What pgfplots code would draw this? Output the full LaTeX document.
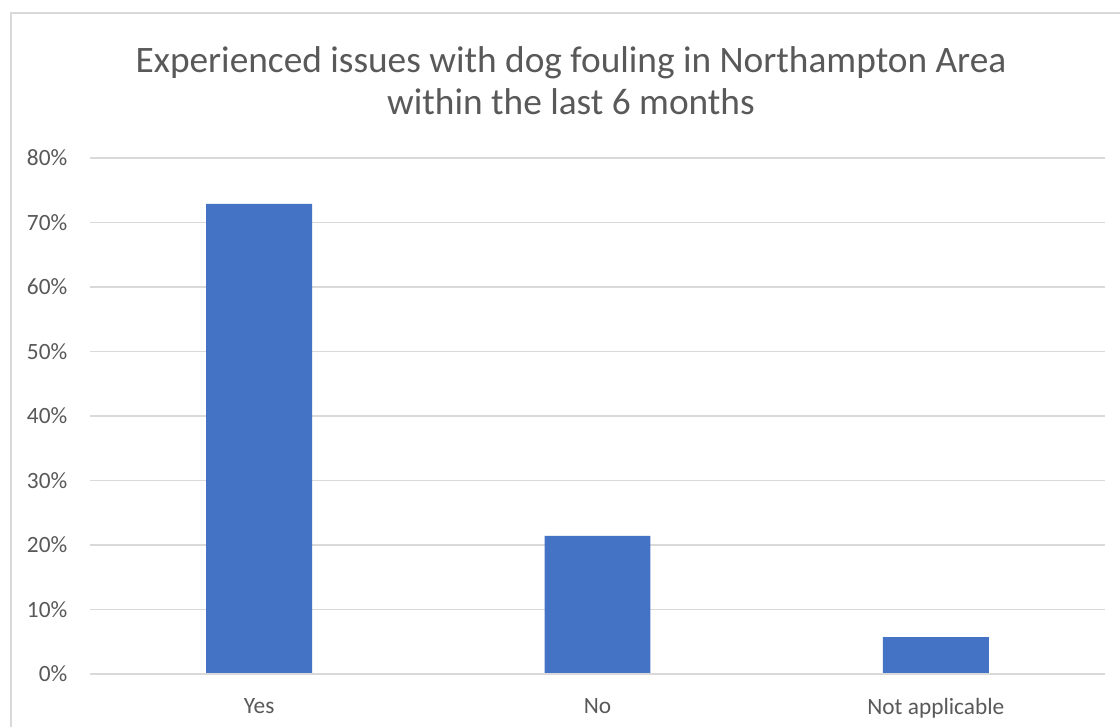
\documentclass[border=0pt]{standalone}
\usepackage{fontspec}
\setmainfont{Carlito}
\usepackage{pgfplots}
\pgfplotsset{compat=1.18}
\definecolor{barblue}{HTML}{4472C4}
\definecolor{txtgray}{HTML}{595959}
\definecolor{gridgray}{HTML}{D9D9D9}
\begin{document}
\begin{tikzpicture}
  % page = 1120 x 727 px = 840pt x 545.25pt, origin at bottom left
  \useasboundingbox[fill=white] (0pt,0pt) rectangle (840pt,545.25pt);
  \draw[gridgray, line width=1.5pt] (8.25pt,0pt) -- (8.25pt,535.5pt) -- (840pt,535.5pt);
  \node[txtgray, align=center, font=\fontsize{28}{31.5}\selectfont] at (428.25pt,484.5pt)
    {Experienced issues with dog fouling in Northampton Area\\within the last 6 months};
  \begin{axis}[
      at={(67.5pt,39.75pt)}, anchor=south west,
      scale only axis,
      width=761.25pt, height=387pt,
      ybar, bar width=0.313,
      xmin=-0.5, xmax=2.5,
      ymin=0, ymax=80,
      xtick=data,
      xticklabels={Yes, No, Not applicable},
      ytick={0,10,...,80},
      yticklabel={\pgfmathprintnumber{\tick}\%},
      /pgf/number format/assume math mode=true,
      major tick length=0pt,
      axis line style={draw=none},
      axis x line*=bottom,
      ymajorgrids, grid style={gridgray, line width=1pt},
      ticklabel style={txtgray, font=\fontsize{17.5}{20}\selectfont},
      yticklabel style={xshift=-13.5pt},
      xticklabel style={yshift=-14.5pt},
      clip=false,
    ]
    \addplot[fill=barblue, draw=none] coordinates {(0,72.9) (1,21.4) (2,5.7)};
    \draw[gridgray, line width=1pt] (axis cs:-0.5,0) -- (axis cs:2.5,0);
  \end{axis}
\end{tikzpicture}
\end{document}
